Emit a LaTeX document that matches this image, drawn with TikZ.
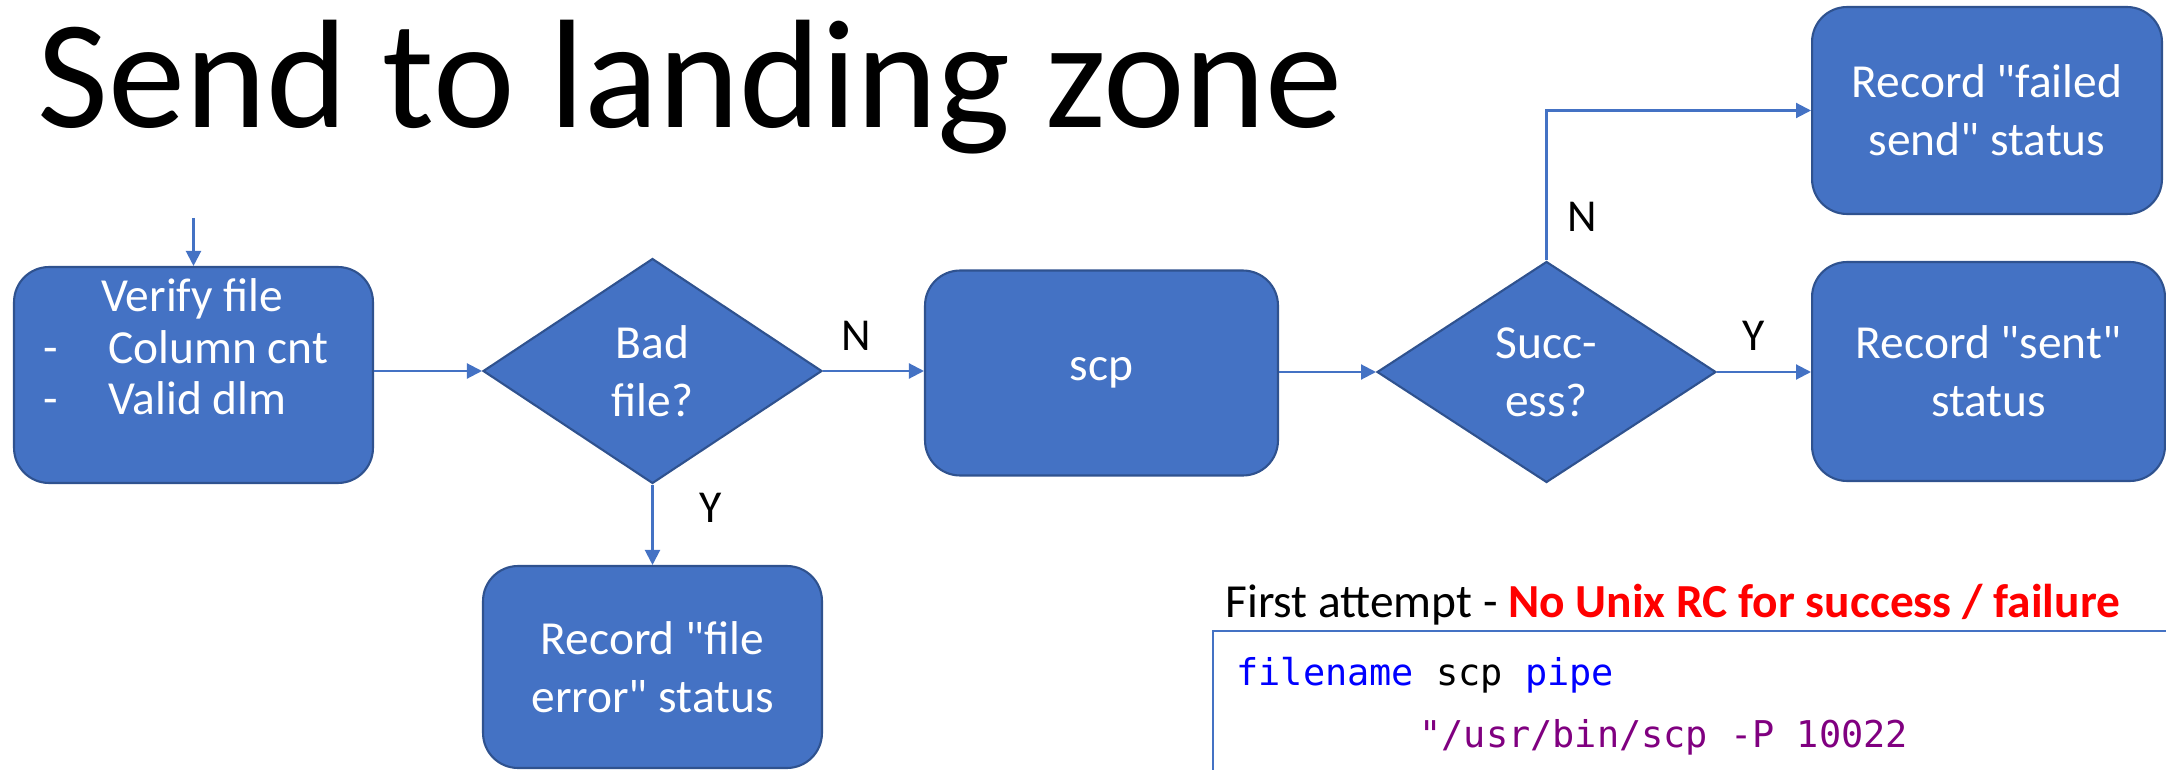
\documentclass[tikz,border=0pt]{standalone}
\usepackage{fontspec}
\setmainfont{Carlito}[Ligatures=TeXOff]
\newfontfamily\codefont{DejaVu Sans Mono}
\usepackage{xcolor}
\usetikzlibrary{shapes.geometric, arrows.meta, positioning}
\definecolor{boxblue}{HTML}{4472C4}
\definecolor{boxline}{HTML}{2F528F}
\definecolor{codeblue}{HTML}{0000FF}
\definecolor{codepurple}{HTML}{800080}

\begin{document}
\begin{tikzpicture}[
    x=0.02cm, y=-0.02cm,
    box/.style={draw=boxline, fill=boxblue, line width=1.2pt, rounded corners=0.7cm, text=white, align=center, font=\fontsize{27}{33}\selectfont},
    decision/.style={diamond, draw=boxline, fill=boxblue, line width=1.2pt, inner sep=0pt, minimum width=6.78cm, minimum height=4.5cm, text=white, align=center, font=\fontsize{27}{33}\selectfont},
    arr/.style={-{Triangle[length=3mm, width=3mm]}, draw=boxblue, line width=1.2pt},
    lbl/.style={inner sep=0pt, font=\fontsize{26}{30}\selectfont}
  ]
    \useasboundingbox (0,0) rectangle (2166,770);
    \node[anchor=base west, inner sep=0pt, font=\fontsize{88}{100}\selectfont] (title) at (37,128) {Send to landing zone};

    \node[box, minimum width=7.18cm, minimum height=4.32cm] (verify) at (193.5,375) {};
    \node[anchor=north west, inner sep=0pt, text=white, align=left, font=\fontsize{27}{29.5}\selectfont] (verifytxt) at (43,278) {\hspace*{1.16cm}Verify file\\\makebox[1.3cm][l]{-}Column cnt\\\makebox[1.3cm][l]{-}Valid dlm};
    \node[decision] (bad) at (652.5,371) {Bad\\file?};
    \node[box, minimum width=7.06cm, minimum height=4.1cm] (scp) at (1101.5,373) {scp};
    \node[decision, minimum height=4.42cm] (success) at (1546.5,372) {Succ-\\ess?};
    \node[box, minimum width=7cm, minimum height=4.14cm] (failed) at (1987,110.5) {Record "failed\\send" status};
    \node[box, minimum width=7.06cm, minimum height=4.38cm] (sent) at (1988.5,371.5) {Record "sent"\\status};
    \node[box, minimum width=6.78cm, minimum height=4.04cm] (fileerr) at (652.5,667) {Record "file\\error" status};
    \coordinate (start) at (193.5,218);

    \draw[arr] (start) -- (verify.north);
    \draw[arr] (verify.east |- bad.west) -- (bad.west);
    \draw[arr] (bad.east) -- (scp.west |- bad.east);
    \draw[arr] (scp.east |- success.west) -- (success.west);
    \draw[arr] (success.east) -- (sent.west |- success.east);
    \draw[arr] (success.north) |- (failed.west);
    \draw[arr] (bad.south) -- (fileerr.north);

    \node[lbl] (nbad) at (856,336) {N};
    \node[lbl] (ysent) at (1754,336) {Y};
    \node[lbl] (ybad) at (711,508) {Y};
    \node[lbl] (nfail) at (1582,217) {N};

    \node[anchor=base west, inner sep=0pt, font=\fontsize{27}{31}\selectfont] (note) at (1225,617) {First attempt - \textcolor{red}{\textbf{No Unix RC for success / failure}}};
    \draw[boxblue, line width=1pt] (1213,770) |- (2166,631);
    \node[anchor=base west, inner sep=0pt, font=\codefont\fontsize{21}{25}\selectfont] (code1) at (1236,685) {\textcolor{codeblue}{filename} scp \textcolor{codeblue}{pipe}};
    \node[anchor=base west, inner sep=0pt, font=\codefont\fontsize{21}{25}\selectfont, text=codepurple] (code2) at (1419,747) {"/usr/bin/scp -P 10022};
  \end{tikzpicture}
\end{document}
